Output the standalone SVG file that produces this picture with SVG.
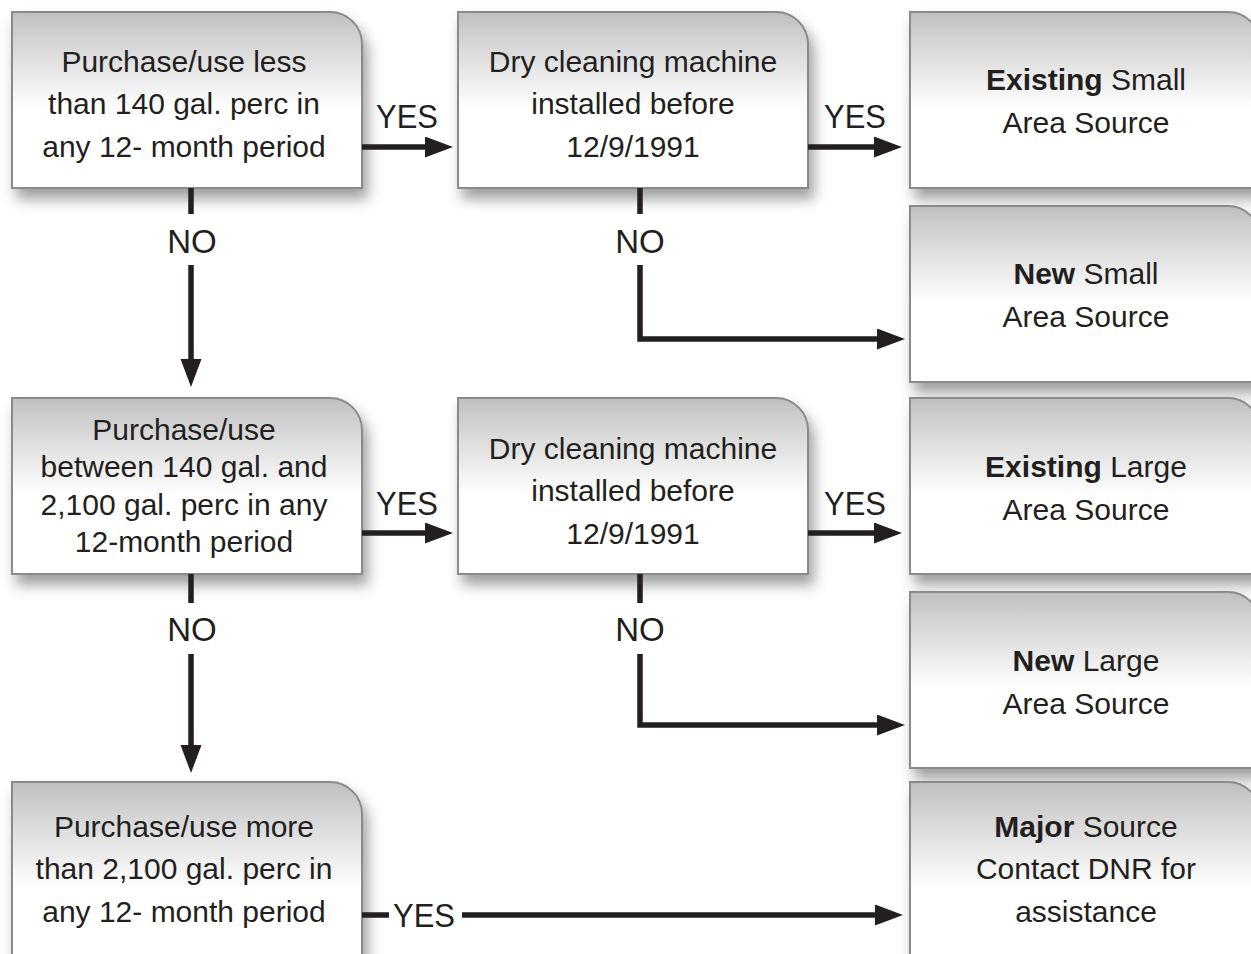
<svg xmlns="http://www.w3.org/2000/svg" width="1251" height="954" viewBox="0 0 1251 954">
<style>
.box{fill:url(#g);stroke:#8a8a8a;stroke-width:2;filter:url(#sh)}
.t{font-family:"Liberation Sans",Arial,sans-serif;font-size:30px;fill:#231f20;text-anchor:middle}
.b{font-weight:bold}
.lbl{font-family:"Liberation Sans",Arial,sans-serif;font-size:33px;fill:#231f20;text-anchor:middle}
.c{fill:none;stroke:#231f20;stroke-width:5.5;marker-end:url(#ah)}
.cn{fill:none;stroke:#231f20;stroke-width:5.5}
</style>
<defs>
<linearGradient id="g" x1="0" y1="0" x2="0" y2="1">
<stop offset="0" stop-color="#bfbfbf"/>
<stop offset="0.15" stop-color="#d2d2d2"/>
<stop offset="0.55" stop-color="#ffffff"/>
<stop offset="1" stop-color="#ffffff"/>
</linearGradient>
<filter id="sh" x="-10%" y="-10%" width="130%" height="140%">
<feDropShadow dx="5" dy="10" stdDeviation="7" flood-color="#000" flood-opacity="0.38"/>
</filter>
<marker id="ah" markerUnits="userSpaceOnUse" markerWidth="30" markerHeight="22" refX="2" refY="10.5" orient="auto">
<path d="M0,0 L28,10.5 L0,21 Z" fill="#231f20"/>
</marker>
</defs>
<rect width="1251" height="954" fill="#fff"/>

<g id="n1">
<path class="box" d="M12,12 H330 A32,32 0 0 1 362,44 V188 H12 Z"/>
<text class="t" x="184" y="72">Purchase/use less</text>
<text class="t" x="184" y="114">than 140 gal. perc in</text>
<text class="t" x="184" y="157">any 12- month period</text>
</g>
<g id="n2">
<path class="box" d="M458,12 H776 A32,32 0 0 1 808,44 V188 H458 Z"/>
<text class="t" x="633" y="72">Dry cleaning machine</text>
<text class="t" x="633" y="114">installed before</text>
<text class="t" x="633" y="157">12/9/1991</text>
</g>
<g id="n3">
<path class="box" d="M910,12 H1228 A32,32 0 0 1 1260,44 V188 H910 Z"/>
<text class="t" x="1086" y="90"><tspan class="b">Existing</tspan> Small</text>
<text class="t" x="1086" y="133">Area Source</text>
</g>
<g id="n4">
<path class="box" d="M910,206 H1228 A32,32 0 0 1 1260,238 V382 H910 Z"/>
<text class="t" x="1086" y="284"><tspan class="b">New</tspan> Small</text>
<text class="t" x="1086" y="327">Area Source</text>
</g>
<g id="n5">
<path class="box" d="M12,398 H330 A32,32 0 0 1 362,430 V574 H12 Z"/>
<text class="t" x="184" y="440">Purchase/use</text>
<text class="t" x="184" y="477">between 140 gal. and</text>
<text class="t" x="184" y="515">2,100 gal. perc in any</text>
<text class="t" x="184" y="552">12-month period</text>
</g>
<g id="n6">
<path class="box" d="M458,398 H776 A32,32 0 0 1 808,430 V574 H458 Z"/>
<text class="t" x="633" y="459">Dry cleaning machine</text>
<text class="t" x="633" y="501">installed before</text>
<text class="t" x="633" y="544">12/9/1991</text>
</g>
<g id="n7">
<path class="box" d="M910,398 H1228 A32,32 0 0 1 1260,430 V574 H910 Z"/>
<text class="t" x="1086" y="477"><tspan class="b">Existing</tspan> Large</text>
<text class="t" x="1086" y="520">Area Source</text>
</g>
<g id="n8">
<path class="box" d="M910,592 H1228 A32,32 0 0 1 1260,624 V768 H910 Z"/>
<text class="t" x="1086" y="671"><tspan class="b">New</tspan> Large</text>
<text class="t" x="1086" y="714">Area Source</text>
</g>
<g id="n9">
<path class="box" d="M12,782 H330 A32,32 0 0 1 362,814 V975 H12 Z"/>
<text class="t" x="184" y="837">Purchase/use more</text>
<text class="t" x="184" y="879">than 2,100 gal. perc in</text>
<text class="t" x="184" y="922">any 12- month period</text>
</g>
<g id="n10">
<path class="box" d="M910,782 H1228 A32,32 0 0 1 1260,814 V975 H910 Z"/>
<text class="t" x="1086" y="837"><tspan class="b">Major</tspan> Source</text>
<text class="t" x="1086" y="879">Contact DNR for</text>
<text class="t" x="1086" y="922">assistance</text>
</g>

<g id="connectors">
<path class="c" d="M362,147 H427"/>
<text class="lbl" x="407" y="128" textLength="62" lengthAdjust="spacingAndGlyphs">YES</text>
<path class="c" d="M808,147 H876"/>
<text class="lbl" x="855" y="128" textLength="62" lengthAdjust="spacingAndGlyphs">YES</text>
<path class="cn" d="M191,188 V214"/>
<text class="lbl" x="192" y="253">NO</text>
<path class="c" d="M191,265 V361"/>
<path class="cn" d="M640,188 V214"/>
<text class="lbl" x="640" y="253">NO</text>
<path class="c" d="M640,265 V339 H879"/>

<path class="c" d="M362,533 H427"/>
<text class="lbl" x="407" y="515" textLength="62" lengthAdjust="spacingAndGlyphs">YES</text>
<path class="c" d="M808,533 H876"/>
<text class="lbl" x="855" y="515" textLength="62" lengthAdjust="spacingAndGlyphs">YES</text>
<path class="cn" d="M191,574 V603"/>
<text class="lbl" x="192" y="641">NO</text>
<path class="c" d="M191,654 V747"/>
<path class="cn" d="M640,574 V603"/>
<text class="lbl" x="640" y="641">NO</text>
<path class="c" d="M640,654 V725 H879"/>

<path class="cn" d="M362,915 H389"/>
<text class="lbl" x="424" y="927" textLength="62" lengthAdjust="spacingAndGlyphs">YES</text>
<path class="c" d="M462,915 H877"/>
</g>
</svg>
